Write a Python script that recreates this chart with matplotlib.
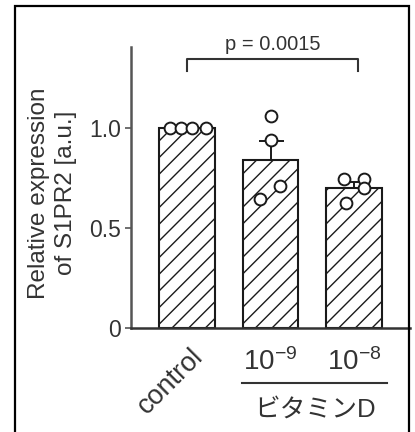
import numpy as np
import matplotlib.pyplot as plt
from matplotlib.patches import Rectangle

plt.rcParams['font.family'] = ['Liberation Sans', 'Noto Sans CJK JP', 'DejaVu Sans']
plt.rcParams['mathtext.fontset'] = 'custom'
plt.rcParams['mathtext.rm'] = 'Liberation Sans'
plt.rcParams['hatch.linewidth'] = 1.0

# data
groups = ['control', '$\\mathregular{10^{-9}}$', '$\\mathregular{10^{-8}}$']
bar_means = [1.00, 0.84, 0.70]
points_control = [1.00, 1.00, 1.00, 1.00]
points_1e9 = [1.06, 0.94, 0.71, 0.645]
points_1e8 = [0.745, 0.745, 0.70, 0.625]
points_dx = [[-0.20, -0.07, 0.06, 0.23],
             [0.00, 0.00, 0.11, -0.12],
             [-0.12, 0.12, 0.12, -0.10]]
p_text = 'p = 0.0015'
group_title = 'ビタミンD'

txt_col = '#333333'
ax_col = '#555555'

fig = plt.figure(figsize=(4.15, 4.32), dpi=100)
ax = fig.add_axes([131 / 415, 104 / 432, 279 / 415, 281 / 432])

x = np.arange(len(bar_means))
ax.bar(x, bar_means, width=0.66, color='white', edgecolor='#1a1a1a',
       linewidth=1.5, hatch='//', zorder=2)

all_pts = [points_control, points_1e9, points_1e8]
sem = [np.std(p, ddof=1) / np.sqrt(len(p)) for p in all_pts]
ax.errorbar(x, bar_means, yerr=[np.zeros(3), sem], fmt='none',
            ecolor='#1a1a1a', elinewidth=1.4, capsize=9, capthick=1.4, zorder=3)

for i, pts in enumerate(all_pts):
    ax.plot(x[i] + np.array(points_dx[i]), pts, 'o', ms=8.5, mfc='white',
            mec='#1a1a1a', mew=1.4, zorder=4, clip_on=False)

# significance bracket
ax.plot([0, 0, 2.05, 2.05], [1.285, 1.345, 1.345, 1.285], color='#333333',
        lw=1.5, clip_on=False)
ax.text(1.03, 1.37, p_text, ha='center', va='bottom', fontsize=14.5, color=txt_col)

ax.set_xlim(-0.67, 2.67)
ax.set_ylim(0, 1.405)
ax.set_yticks([0, 0.5, 1.0])
ax.set_yticklabels(['0', '0.5', '1.0'])
ax.tick_params(axis='y', length=4, width=1.2, color=ax_col, pad=3,
               labelsize=16.5, labelcolor=txt_col)
ax.set_xticks([])
for s in ['top', 'right']:
    ax.spines[s].set_visible(False)
ax.spines['left'].set_color(ax_col)
ax.spines['left'].set_linewidth(1.8)
ax.spines['bottom'].set_color('#333333')
ax.spines['bottom'].set_linewidth(1.8)

ax.text(-0.28, 0.48, 'Relative expression\nof S1PR2 [a.u.]', transform=ax.transAxes,
        rotation=90, ha='center', va='center', fontsize=17.5, color=txt_col,
        linespacing=1.3)

# x labels
trans = ax.get_xaxis_transform()
ax.text(x[0] - 0.2, -0.19, groups[0], transform=trans, rotation=45,
        ha='center', va='center', fontsize=19.5, color=txt_col)
for i in (1, 2):
    ax.text(x[i], -0.121, groups[i], transform=trans, ha='center', va='center',
            fontsize=20, color=txt_col)
ax.plot([0.66, 2.40], [-0.196, -0.196], transform=trans, color='#333333',
        lw=1.5, clip_on=False)
ax.text(1.53, -0.29, group_title, transform=trans, ha='center', va='center',
        fontsize=18.5, color=txt_col)

# outer frame
fig.add_artist(Rectangle((15 / 415, -0.05), 394 / 415, 1.05 - 6 / 432,
                         transform=fig.transFigure, fill=False,
                         edgecolor='black', linewidth=1.6))

fig.savefig('out.png', dpi=100)
